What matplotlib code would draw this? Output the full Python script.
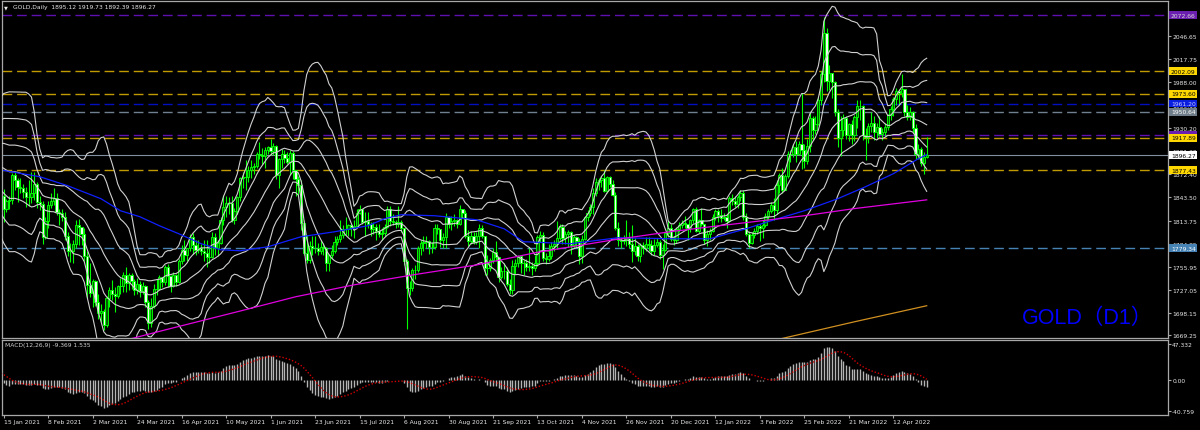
import numpy as np
import pandas as pd
import matplotlib
matplotlib.use("Agg")
import matplotlib.pyplot as plt
from matplotlib.transforms import blended_transform_factory

# ---------------- data ----------------
warmup_close = [1776, 1815, 1830, 1841, 1839, 1863, 1871, 1838, 1837, 1839, 1827, 1855,
                1862, 1886, 1881, 1872, 1863, 1871, 1876, 1876, 1877, 1893, 1898, 1943,
                1950, 1918, 1913, 1849, 1850, 1855, 1845, 1851]
first_open = 1845

close = [1828,
 1839, 1840, 1871, 1865, 1856, 1855, 1850, 1843, 1843, 1848, 1860, 1837, 1835, 1793, 1814,
 1833, 1838, 1842, 1825, 1823, 1819, 1794, 1775, 1775, 1784, 1808, 1806, 1797, 1769, 1733,
 1723, 1738, 1711, 1697, 1700, 1683, 1716, 1726, 1722, 1719, 1731, 1731, 1745, 1735, 1745,
 1738, 1726, 1734, 1725, 1732, 1712, 1685, 1707, 1728,
 1728, 1743, 1737, 1756, 1744, 1732, 1746, 1736, 1763, 1777, 1770, 1779, 1793, 1783, 1777,
 1780, 1776, 1773, 1768, 1768, 1793, 1779, 1786, 1815, 1831, 1836, 1836, 1815, 1826, 1843,
 1867, 1869, 1869, 1877, 1881, 1882, 1898, 1897, 1895, 1903, 1906, 1902, 1908, 1871, 1891,
 1898, 1893, 1888, 1899, 1877, 1866, 1859, 1811, 1773, 1764, 1782, 1779, 1779, 1776, 1781,
 1779, 1761, 1770, 1776, 1787, 1791, 1796, 1803, 1803, 1808, 1806, 1807, 1824, 1828, 1812,
 1813, 1810, 1803, 1806, 1801, 1797, 1798, 1806, 1828, 1814, 1812, 1810, 1812, 1804, 1763,
 1729, 1729, 1752, 1752, 1780, 1786, 1787, 1788, 1781, 1781, 1805, 1803, 1790, 1793, 1818,
 1810, 1814, 1815, 1810, 1828, 1823, 1795, 1788, 1794, 1787, 1794, 1804, 1794, 1754, 1754,
 1764, 1774, 1768, 1743, 1750, 1751, 1734, 1726, 1757, 1761, 1769, 1760, 1761, 1756, 1757,
 1754, 1760, 1793, 1796, 1767, 1765, 1769, 1782, 1784, 1792, 1806, 1792, 1797, 1800, 1783,
 1793, 1788, 1769, 1791, 1818, 1824, 1831, 1849, 1862, 1865, 1867, 1851, 1869, 1860, 1846,
 1805, 1790, 1788, 1790, 1792, 1785, 1775, 1782, 1769, 1783, 1779, 1785, 1783, 1775, 1783,
 1787, 1771, 1777, 1798, 1804, 1791, 1790, 1803, 1808,
 1811, 1809, 1805, 1815, 1828, 1801, 1815, 1810, 1790, 1797, 1801, 1818, 1826, 1821, 1817,
 1818, 1813, 1842, 1839, 1835, 1843, 1849, 1819, 1797, 1786, 1796, 1801, 1807, 1804, 1808,
 1820, 1826, 1833, 1827, 1859, 1871, 1853, 1870, 1898, 1898, 1906, 1898, 1910, 1903, 1889,
 1908, 1943, 1928, 1936, 1966, 1998, 2050, 1990, 2000, 1988, 1951, 1918, 1928, 1943, 1921,
 1936, 1921, 1944, 1958, 1958, 1922, 1919, 1933, 1937, 1925, 1932, 1923, 1925, 1932, 1947,
 1954, 1967, 1977, 1974,
 1979, 1950, 1944, 1951, 1931, 1898, 1904, 1886, 1894, 1896.27]

high = [1854,
 1841, 1845, 1874, 1875, 1867, 1867, 1860, 1856, 1865, 1875, 1875, 1862, 1845, 1838, 1818,
 1838, 1849, 1855, 1848, 1829, 1829, 1825, 1800, 1786, 1789, 1815, 1816, 1806, 1804, 1775,
 1760, 1740, 1739, 1721, 1709, 1703, 1719, 1730, 1739, 1730, 1733, 1741, 1749, 1755, 1748,
 1748, 1740, 1741, 1738, 1737, 1733, 1714, 1716, 1734,
 1740, 1746, 1743, 1758, 1759, 1746, 1749, 1747, 1765, 1783, 1790, 1780, 1797, 1798, 1790,
 1789, 1785, 1790, 1790, 1780, 1799, 1798, 1790, 1818, 1846, 1845, 1844, 1845, 1830, 1845,
 1869, 1875, 1890, 1883, 1890, 1887, 1900, 1913, 1905, 1907, 1908, 1917, 1911, 1909, 1893,
 1904, 1903, 1900, 1903, 1902, 1877, 1870, 1865, 1815, 1796, 1788, 1794, 1795, 1786, 1790,
 1786, 1781, 1772, 1783, 1795, 1795, 1815, 1808, 1818, 1810, 1809, 1815, 1829, 1834, 1829,
 1825, 1825, 1812, 1812, 1810, 1810, 1804, 1810, 1832, 1832, 1822, 1815, 1832, 1815, 1805,
 1766, 1738, 1754, 1758, 1782, 1790, 1795, 1794, 1790, 1787, 1810, 1810, 1803, 1798, 1823,
 1820, 1820, 1822, 1816, 1834, 1828, 1827, 1802, 1801, 1800, 1800, 1809, 1808, 1795, 1770,
 1767, 1779, 1788, 1768, 1755, 1760, 1755, 1740, 1764, 1765, 1770, 1770, 1764, 1765, 1781,
 1762, 1770, 1796, 1801, 1800, 1773, 1785, 1787, 1789, 1814, 1810, 1809, 1801, 1802, 1801,
 1796, 1795, 1792, 1796, 1820, 1827, 1835, 1855, 1868, 1868, 1870, 1877, 1870, 1870, 1865,
 1850, 1812, 1793, 1796, 1815, 1800, 1808, 1792, 1785, 1786, 1787, 1793, 1793, 1789, 1791,
 1792, 1789, 1785, 1800, 1815, 1810, 1795, 1806, 1812,
 1815, 1820, 1810, 1816, 1830, 1831, 1816, 1830, 1810, 1802, 1804, 1822, 1829, 1829, 1828,
 1823, 1822, 1845, 1847, 1845, 1846, 1852, 1853, 1823, 1801, 1800, 1805, 1810, 1809, 1815,
 1823, 1829, 1837, 1842, 1865, 1874, 1880, 1873, 1902, 1903, 1910, 1914, 1914, 1975, 1910,
 1917, 1950, 1945, 1945, 1970, 2002, 2070, 2056, 2010, 2000, 1990, 1954, 1945, 1948, 1945,
 1937, 1941, 1947, 1966, 1966, 1960, 1931, 1937, 1950, 1945, 1937, 1945, 1930, 1937, 1948,
 1958, 1970, 1981, 1980,
 1998, 1980, 1960, 1957, 1952, 1935, 1910, 1906, 1900, 1919.73]

low = [1812,
 1825, 1828, 1835, 1853, 1837, 1848, 1842, 1831, 1832, 1836, 1840, 1830, 1827, 1784, 1791,
 1805, 1830, 1834, 1821, 1808, 1814, 1789, 1769, 1762, 1760, 1780, 1783, 1783, 1763, 1717,
 1718, 1705, 1707, 1690, 1686, 1676, 1680, 1705, 1714, 1699, 1716, 1722, 1724, 1724, 1727,
 1728, 1720, 1722, 1718, 1721, 1705, 1677, 1680, 1704,
 1720, 1727, 1730, 1733, 1730, 1724, 1730, 1732, 1735, 1759, 1763, 1763, 1776, 1772, 1770,
 1773, 1770, 1763, 1756, 1760, 1767, 1771, 1769, 1784, 1808, 1818, 1822, 1812, 1809, 1822,
 1839, 1855, 1852, 1863, 1868, 1872, 1880, 1891, 1885, 1880, 1898, 1897, 1896, 1866, 1855,
 1880, 1887, 1885, 1871, 1866, 1845, 1845, 1802, 1770, 1761, 1760, 1770, 1773, 1770, 1772,
 1771, 1750, 1750, 1765, 1773, 1783, 1787, 1792, 1796, 1795, 1795, 1792, 1806, 1822, 1809,
 1795, 1805, 1795, 1797, 1789, 1793, 1790, 1795, 1805, 1807, 1808, 1805, 1806, 1799, 1758,
 1678, 1720, 1725, 1740, 1749, 1770, 1775, 1780, 1772, 1773, 1778, 1797, 1781, 1780, 1780,
 1805, 1802, 1807, 1805, 1808, 1817, 1792, 1782, 1785, 1784, 1785, 1780, 1792, 1745, 1745,
 1750, 1760, 1763, 1737, 1740, 1740, 1732, 1722, 1722, 1747, 1756, 1748, 1746, 1751, 1750,
 1746, 1750, 1757, 1787, 1763, 1759, 1763, 1765, 1776, 1778, 1790, 1784, 1784, 1781, 1772,
 1780, 1781, 1759, 1760, 1790, 1813, 1820, 1822, 1845, 1853, 1856, 1850, 1848, 1856, 1845,
 1802, 1782, 1779, 1785, 1782, 1780, 1762, 1771, 1763, 1762, 1772, 1775, 1776, 1770, 1771,
 1781, 1766, 1753, 1775, 1793, 1788, 1783, 1786, 1800,
 1804, 1805, 1790, 1799, 1811, 1799, 1798, 1807, 1785, 1782, 1790, 1800, 1815, 1812, 1812,
 1815, 1805, 1812, 1833, 1831, 1830, 1838, 1815, 1794, 1780, 1785, 1792, 1797, 1788, 1792,
 1806, 1815, 1823, 1815, 1822, 1849, 1848, 1852, 1868, 1888, 1894, 1888, 1896, 1879, 1880,
 1885, 1900, 1915, 1923, 1934, 1960, 1988, 1977, 1978, 1968, 1945, 1906, 1895, 1920, 1916,
 1914, 1910, 1914, 1931, 1940, 1915, 1890, 1912, 1926, 1915, 1918, 1920, 1915, 1920, 1928,
 1940, 1946, 1960, 1960,
 1970, 1945, 1940, 1940, 1925, 1891, 1892, 1883, 1872, 1892.39]

first_date = "2021-01-15"
last_date = "2022-04-29"
closed_days = ["2021-04-02", "2021-12-24", "2022-04-15"]
label_dates = ["2021-01-15", "2021-02-08", "2021-03-02", "2021-03-24", "2021-04-16",
               "2021-05-10", "2021-06-01", "2021-06-23", "2021-07-15", "2021-08-06",
               "2021-08-30", "2021-09-21", "2021-10-13", "2021-11-04", "2021-11-26",
               "2021-12-20", "2022-01-12", "2022-02-03", "2022-02-25", "2022-03-21",
               "2022-04-12"]

# moving-average lines (bar index, price)
blue_idx = [0, 13, 23, 35, 42, 49, 56, 63, 71, 78, 85, 95, 107, 119, 131, 137, 143, 155,
            170, 180, 187, 204, 221, 240, 254, 267, 276, 288, 300, 310, 320, 329, 332]
blue_val = [1877.0, 1869.1, 1857.8, 1841.4, 1826.3, 1818.7, 1807.4, 1797.3, 1784.8, 1777.2,
            1775.9, 1780.9, 1793.6, 1799.8, 1807.4, 1816.2, 1821.3, 1820.0, 1815.0, 1803.6,
            1787.3, 1784.8, 1792.3, 1791.0, 1791.0, 1803.6, 1813.7, 1826.3, 1841.4, 1856.5,
            1872.9, 1891.8, 1896.8]
magenta_idx = [40, 60, 85, 105, 126, 148, 170, 192, 220, 240, 254, 288, 306, 332]
magenta_val = [1660, 1678, 1700, 1718, 1733, 1746, 1758, 1774, 1790, 1800, 1806, 1820, 1829, 1840]
orange_idx = [280, 306, 332]
orange_val = [1665.5, 1686.5, 1706.7]

# horizontal levels
levels = [2072.66, 2002.09, 1973.60, 1961.20, 1950.64, 1921.60, 1917.89, 1877.43, 1779.34]
level_line_colors = ["#6010b0", "#c09a00", "#c09a00", "#0010c0", "#708090", "#6010b0",
                     "#c09a00", "#c09a00", "#4682b4"]
level_box_colors = ["#6a1fb0", "#ffd700", "#ffd700", "#0a1ee0", "#6f7d8a", "#6a1fb0",
                    "#ffd700", "#ffd700", "#4682b4"]
level_text_colors = ["#d8d8d8", "#000000", "#000000", "#c8c8ff", "#ffffff", "#d8d8d8",
                     "#000000", "#000000", "#ffffff"]
bid_price = 1896.27

price_ticks = [2046.65, 2017.75, 1988.00, 1959.10, 1930.20, 1901.30, 1872.40, 1843.50,
               1813.75, 1784.85, 1755.95, 1727.05, 1698.15, 1669.25]
macd_ticks = [47.332, 0.0, -40.759]
macd_tick_labels = ["47.332", "0.00", "-40.759"]

header = "GOLD,Daily  1895.12 1919.73 1892.39 1896.27"
macd_title = "MACD(12,26,9) -9.369 1.535"
big_label = "GOLD\uff08D1\uff09"

# ---------------- figure ----------------
W, H = 1200, 431
fig = plt.figure(figsize=(12, 4.31), dpi=100, facecolor="black")


def rect(x0, y0, x1, y1):
    return [x0 / W, 1 - y1 / H, (x1 - x0) / W, (y1 - y0) / H]


ax = fig.add_axes(rect(2, 2, 1168, 339))
ax2 = fig.add_axes(rect(2, 341, 1168, 416), sharex=ax)
for a in (ax, ax2):
    a.set_facecolor("black")
    for sp in a.spines.values():
        sp.set_color("#a8a8a8")
        sp.set_linewidth(0.9)

n = len(close)
idx = np.arange(n)
c = np.array(close, float)
o = np.array([first_open] + close[:-1], float)
h = np.maximum(np.array(high, float), np.maximum(o, c))
l = np.minimum(np.array(low, float), np.minimum(o, c))
up = c >= o

ax.vlines(idx, l, h, color="#00ff00", lw=0.8, zorder=3)
ax.bar(idx[up], (c - o)[up], bottom=o[up], width=0.8, color="#006000",
       edgecolor="#00ff00", lw=0.65, zorder=4)
ax.bar(idx[~up], (c - o)[~up], bottom=o[~up], width=0.8, color="#f0fff0",
       edgecolor="#00ff00", lw=0.65, zorder=4)

# Bollinger bands (20, 1/2/3 sigma)
full = pd.Series(warmup_close + close, dtype=float)
xf = np.arange(-len(warmup_close), n)
mid = full.rolling(20).mean()
sd = full.rolling(20).std(ddof=0)
for k in (-3, -2, -1, 0, 1, 2, 3):
    ax.plot(xf, mid + k * sd, color="#d0d0d0", lw=0.8, zorder=5)

ax.plot(blue_idx, blue_val, color="#1020ff", lw=0.9, zorder=5)
ax.plot(magenta_idx, magenta_val, color="#e000e0", lw=0.9, zorder=5)
ax.plot(orange_idx, orange_val, color="#d09020", lw=0.9, zorder=5)

# horizontal levels
bt = blended_transform_factory(ax.transAxes, ax.transData)
for lv, lc in zip(levels, level_line_colors):
    ax.axhline(lv, color=lc, lw=1.0, ls=(0, (7, 3.5)), zorder=2)
ax.axhline(bid_price, color="#8090a0", lw=0.8, zorder=2)

ax.set_xlim(-0.61, 418.8)
ax.set_ylim(1666.1, 2090.3)
ax.yaxis.tick_right()
ax.set_yticks(price_ticks)
ax.set_yticklabels([f"{t:.2f}" for t in price_ticks])
ax.tick_params(axis="y", colors="#a8a8a8", labelcolor="#e8e8e8", labelsize=4.3,
               length=2.2, width=0.8, pad=0.8)
ax.tick_params(axis="x", bottom=False, labelbottom=False)

for lv, bc, tc in zip(levels + [bid_price],
                      level_box_colors + ["#ffffff"],
                      level_text_colors + ["#000000"]):
    ax.text(1.0024, lv, f"{lv:.2f}", transform=bt, ha="left", va="center",
            fontsize=4.3, color=tc, clip_on=False, zorder=20,
            bbox=dict(boxstyle="square,pad=0.22", fc=bc, ec="none"))

# MACD
ema12 = full.ewm(span=12, adjust=True).mean()
ema26 = full.ewm(span=26, adjust=True).mean()
macd = ema12 - ema26
sig = macd.rolling(9).mean()
m = xf >= -1
ax2.vlines(xf[m], 0, macd[m], color="#b4b4b4", lw=1.0, zorder=3)
ax2.plot(xf[m], sig[m], color="#d00000", lw=1.0, ls=(0, (1, 1.4)), zorder=4)
ax2.set_ylim(-45.6, 52.6)
ax2.yaxis.tick_right()
ax2.set_yticks(macd_ticks)
ax2.set_yticklabels(macd_tick_labels)
ax2.tick_params(axis="y", colors="#a8a8a8", labelcolor="#e8e8e8", labelsize=4.3,
                length=2.2, width=0.8, pad=0.8)

dates = pd.bdate_range(first_date, last_date)
dates = dates[~dates.isin(pd.to_datetime(closed_days))]
pos = [dates.get_loc(pd.Timestamp(d)) for d in label_dates]
labs = [f"{pd.Timestamp(d).day} {pd.Timestamp(d).strftime('%b %Y')}" for d in label_dates]
ax2.set_xticks(pos)
ax2.set_xticklabels(labs)
ax2.tick_params(axis="x", colors="#a8a8a8", labelcolor="#e8e8e8", labelsize=4.3,
                length=2.5, width=0.8, pad=0.6)
for t in ax2.get_xticklabels():
    t.set_ha("left")
ax2.set_xlim(-0.61, 418.8)

# texts
fig.text(4 / W, 1 - 7.5 / H, "\u25bc", fontsize=3.6, color="#e8e8e8", va="center")
fig.text(13 / W, 1 - 7.5 / H, header, fontsize=4.3, color="#e8e8e8", va="center")
fig.text(5 / W, 1 - 346 / H, macd_title, fontsize=4.3, color="#d0d0d0", va="center")
fig.text(1022 / W, 1 - 318 / H, big_label, fontsize=15.5, color="#0000ff", va="center",
         family=["Liberation Sans", "Noto Sans CJK JP", "DejaVu Sans"])

fig.savefig("out.png", dpi=100, facecolor="black")
